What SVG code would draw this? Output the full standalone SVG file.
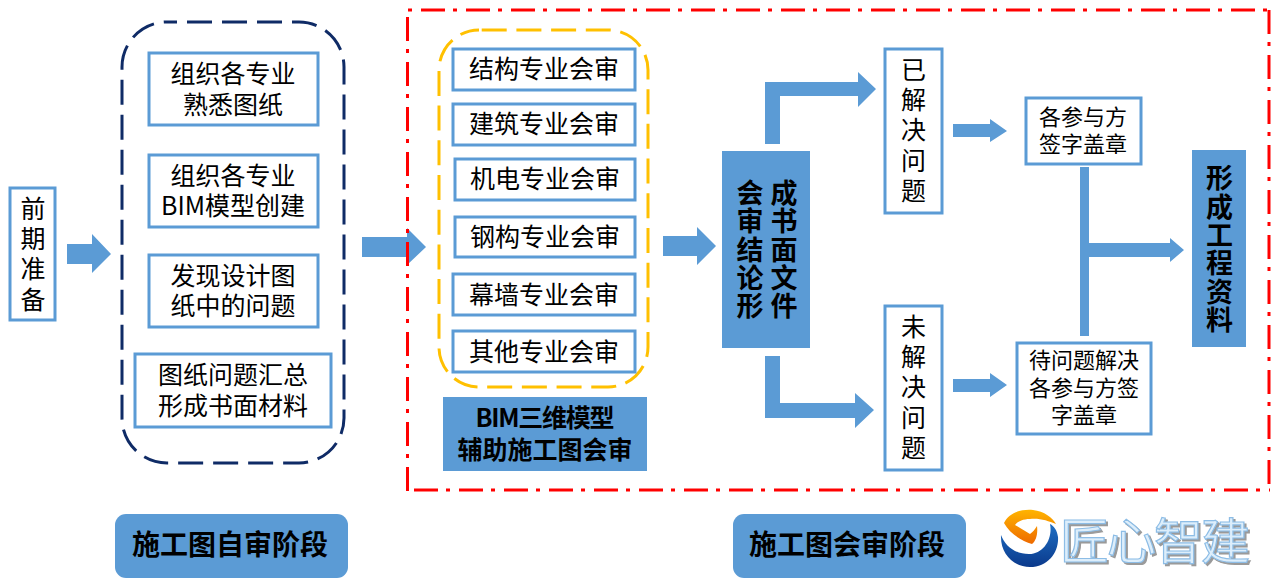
<svg xmlns="http://www.w3.org/2000/svg" width="1280" height="587" viewBox="0 0 1280 587">
<defs>
<linearGradient id="or" x1="0" y1="0" x2="0" y2="1"><stop offset="0" stop-color="#FFB400"/><stop offset="1" stop-color="#EE6A00"/></linearGradient>
<linearGradient id="bl" x1="0" y1="0" x2="0" y2="1"><stop offset="0" stop-color="#1F6FC4"/><stop offset="1" stop-color="#0B3A8C"/></linearGradient>
</defs>
<style>
text{font-family:"Noto Sans CJK SC","Noto Sans",sans-serif;fill:#000;text-anchor:middle}
.b{fill:#fff;stroke:#5B9BD5;stroke-width:3}
.f{fill:#5B9BD5}
.t{font-size:25px}
.s{font-size:22px}
.m{font-size:25px;font-weight:700}
.p{font-size:28px;font-weight:700}
.v{writing-mode:vertical-rl;text-anchor:start;font-size:25px;letter-spacing:5.4px}
.vb{writing-mode:vertical-rl;text-anchor:start;font-size:27px;font-weight:700;letter-spacing:1.2px}
.a{fill:#5B9BD5}
.frame{fill:none;stroke-width:3}
.red{fill:none;stroke:#FF0000;stroke-width:3;stroke-dasharray:24 8 4 9}
.logo{font-size:49px;fill:#DDEEFB;stroke:#8DBDE6;stroke-width:1.2px;text-anchor:start}
.shadow{font-size:49px;fill:#9A9A9A;text-anchor:start}
</style>
<rect width="1280" height="587" fill="#fff"/>
<g id="frames">
<rect class="frame" x="122" y="22" width="222" height="441" rx="45" stroke="#0F2B66" stroke-dasharray="25 10" stroke-dashoffset="15"/>
<rect class="frame" x="439" y="30" width="209" height="357" rx="40" stroke="#FFC000" stroke-dasharray="25 9.7" stroke-dashoffset="32"/>
</g>
<g id="connectors">
<polygon class="a" points="67,244 92,244 92,234 111,254 92,273 92,264 67,264"/>
<polygon class="a" points="362,237 407,237 407,228 426,247 407,265 407,257 362,257"/>
<polygon class="a" points="663,236 697,236 697,227 716,246 697,265 697,256 663,256"/>
<polygon class="a" points="765,144 765,82 858,82 858,72 876,89 858,107 858,96 780,96 780,144"/>
<polygon class="a" points="765,356 765,418 855,418 855,428 874,410 855,393 855,403 780,403 780,356"/>
<polygon class="a" points="953,124 990,124 990,119 1007,131 990,142 990,137 953,137"/>
<polygon class="a" points="953,379 990,379 990,373 1007,385 990,397 990,392 953,392"/>
<rect class="a" x="1080" y="167" width="9" height="169"/>
<polygon class="a" points="1089,243 1170,243 1170,238 1184,250 1170,262 1170,257 1089,257"/>
</g>
<g id="review-frame">
<line class="red" x1="408" y1="10" x2="1270" y2="10" stroke-dashoffset="32"/>
<line class="red" x1="1269" y1="10" x2="1269" y2="491"/>
<line class="red" x1="408" y1="490" x2="1270" y2="490" stroke-dashoffset="39"/>
<line class="red" x1="407.5" y1="10" x2="407.5" y2="491" stroke-dashoffset="38"/>
</g>
<g id="n-prep"><rect class="b" x="10" y="188" width="45" height="132"/><text class="v" x="33" y="195.5">前期准备</text></g>
<g id="n-a1"><rect class="b" x="149" y="53" width="169" height="72"/><text class="t" x="233" y="83"><tspan x="233">组织各专业</tspan><tspan x="233" dy="31">熟悉图纸</tspan></text></g>
<g id="n-a2"><rect class="b" x="149" y="155" width="169" height="72"/><text class="t" x="233" y="185"><tspan x="233">组织各专业</tspan><tspan x="233" dy="30">BIM模型创建</tspan></text></g>
<g id="n-a3"><rect class="b" x="149" y="255" width="169" height="72"/><text class="t" x="233" y="285"><tspan x="233">发现设计图</tspan><tspan x="233" dy="30">纸中的问题</tspan></text></g>
<g id="n-a4"><rect class="b" x="135" y="354" width="196" height="73"/><text class="t" x="233" y="384"><tspan x="233">图纸问题汇总</tspan><tspan x="233" dy="31">形成书面材料</tspan></text></g>
<g id="n-r1"><rect class="b" x="453" y="49" width="182" height="41"/><text class="t" x="544" y="78">结构专业会审</text></g>
<g id="n-r2"><rect class="b" x="453" y="104" width="182" height="41"/><text class="t" x="544" y="133">建筑专业会审</text></g>
<g id="n-r3"><rect class="b" x="455" y="159" width="180" height="41"/><text class="t" x="545" y="188">机电专业会审</text></g>
<g id="n-r4"><rect class="b" x="455" y="217" width="180" height="40"/><text class="t" x="545" y="246">钢构专业会审</text></g>
<g id="n-r5"><rect class="b" x="453" y="274" width="182" height="41"/><text class="t" x="544" y="304">幕墙专业会审</text></g>
<g id="n-r6"><rect class="b" x="453" y="331" width="182" height="41"/><text class="t" x="544" y="361">其他专业会审</text></g>
<g id="n-bim"><rect class="f" x="443" y="397" width="204" height="74"/><text class="m" x="545" y="427"><tspan x="545" textLength="139" lengthAdjust="spacing">BIM三维模型</tspan><tspan x="545" dy="32">辅助施工图会审</tspan></text></g>
<g id="n-concl"><rect class="f" x="722" y="151" width="88" height="197"/><text class="vb" x="750" y="179.5">会审结论形</text><text class="vb" x="784" y="179.5">成书面文件</text></g>
<g id="n-done"><rect class="b" x="885" y="49" width="57" height="164"/><text class="v" x="913.5" y="56.5">已解决问题</text></g>
<g id="n-open"><rect class="b" x="885" y="306" width="57" height="164"/><text class="v" x="913.5" y="313.5">未解决问题</text></g>
<g id="n-sign1"><rect class="b" x="1026" y="98" width="115" height="66"/><text class="s" x="1083" y="125"><tspan x="1083">各参与方</tspan><tspan x="1083" dy="27">签字盖章</tspan></text></g>
<g id="n-sign2"><rect class="b" x="1017" y="343" width="134" height="91"/><text class="s" x="1084" y="368"><tspan x="1084">待问题解决</tspan><tspan x="1084" dy="28">各参与方签</tspan><tspan x="1084" dy="27">字盖章</tspan></text></g>
<g id="n-form"><rect class="f" x="1192" y="150" width="54" height="197"/><text class="vb" x="1219.5" y="164.5" style="letter-spacing:1.4px">形成工程资料</text></g>
<g id="n-phase1"><rect class="f" x="115" y="514" width="233" height="64" rx="11"/><text class="p" x="230" y="555">施工图自审阶段</text></g>
<g id="n-phase2"><rect class="f" x="733" y="514" width="233" height="64" rx="11"/><text class="p" x="847" y="555">施工图会审阶段</text></g>
<g id="logo">
<path fill="url(#bl)" d="M1001 535C1000 553 1013 567 1030 567C1048 567 1059 552 1058 537C1057 530 1054 526 1050 524C1053 538 1044 554 1029 554C1015 554 1005 546 1001 535Z"/>
<path fill="url(#or)" d="M1004 523C1009 512 1022 509 1033 510C1044 511 1053 518 1056 524C1048 521 1040 518 1030 519C1022 519 1017 522 1015 525L1030 534C1033 532 1035 529 1037 526C1038 534 1036 541 1032 544C1022 541 1010 534 1004 523Z"/>
<text class="logo" x="1060" y="559" textLength="190" style="paint-order:normal;filter:drop-shadow(2px 2px 0 #9A9A9A)">匠心智建</text>
</g>
</svg>
